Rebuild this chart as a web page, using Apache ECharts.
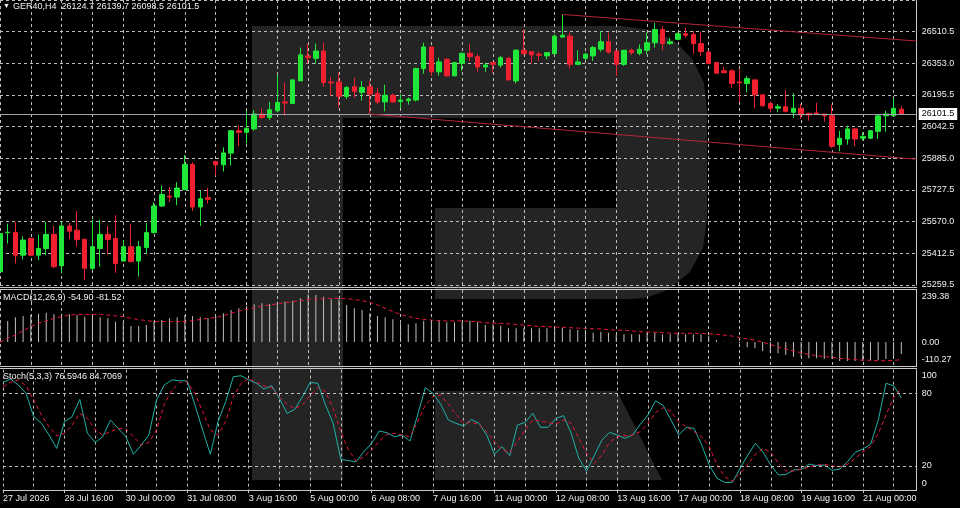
<!DOCTYPE html>
<html><head><meta charset="utf-8">
<script src="https://cdn.jsdelivr.net/npm/echarts@6/dist/echarts.min.js"></script>
<style>html,body{margin:0;padding:0;background:#000;}#c{width:960px;height:508px;}</style>
</head><body><div id="c"></div><script>
const tickLabels = ["27 Jul 2026","28 Jul 16:00","30 Jul 00:00","31 Jul 08:00","3 Aug 16:00","5 Aug 00:00","6 Aug 08:00","7 Aug 16:00","11 Aug 00:00","12 Aug 08:00","13 Aug 16:00","17 Aug 00:00","18 Aug 08:00","19 Aug 16:00","21 Aug 00:00"];
const priceTicks = ["25259.5","25412.5","25570.0","25727.5","25885.0","26042.5","26195.5","26353.0","26510.5"];
const macdTicks = [-110.27, 0, 239.38];
const stochTicks = [0, 20, 80, 100];
const stochLevels = [20, 80];

const opens = [25319,25512,25513,25401,25484,25401,25434,25504,25349,25546,25525,25480,25336,25434,25504,25484,25372,25443,25372,25439,25513,25645,25694,25689,25727,25851,25640,25686,25865,25849,25907,26018,26010,26027,26101,26084,26117,26161,26153,26265,26389,26377,26413,26260,26260,26188,26236,26208,26236,26203,26161,26194,26163,26167,26170,26326,26433,26310,26372,26290,26352,26402,26385,26334,26356,26343,26377,26265,26417,26410,26397,26389,26400,26482,26487,26347,26377,26389,26422,26459,26413,26347,26417,26402,26417,26454,26520,26450,26471,26499,26496,26450,26408,26356,26315,26315,26260,26252,26270,26196,26153,26130,26137,26109,26129,26104,26106,26101,26092,25949,25977,26027,25981,25981,26015,26092,26092,26124.7];
const closes = [25508,25515,25401,25476,25401,25434,25504,25344,25546,25520,25479,25336,25443,25504,25479,25360,25443,25369,25443,25513,25645,25702,25689,25734,25851,25640,25681,25678,25849,25908,26018,26010,26030,26101,26084,26122,26158,26155,26270,26394,26380,26413,26257,26255,26188,26232,26213,26232,26199,26161,26194,26161,26170,26175,26326,26433,26310,26359,26290,26356,26402,26385,26334,26344,26347,26380,26270,26417,26400,26394,26392,26405,26487,26491,26347,26359,26397,26430,26459,26408,26347,26417,26405,26422,26454,26520,26450,26459,26499,26491,26450,26410,26351,26303,26306,26252,26255,26277,26196,26142,26129,26137,26114,26129,26096,26096,26101,26092,25941,25981,26027,25977,25990,26018,26092,26101,26129,26101.5];
const lows = [25311,25459,25360,25380,25396,25377,25401,25336,25311,25480,25443,25278,25327,25344,25405,25314,25369,25369,25295,25410,25508,25640,25665,25648,25722,25620,25546,25657,25796,25816,25846,25941,25956,26018,26076,26071,26109,26092,26150,26265,26351,26351,26236,26191,26134,26175,26183,26167,26101,26150,26114,26158,26130,26147,26163,26301,26290,26290,26285,26287,26315,26364,26311,26310,26306,26331,26265,26252,26394,26352,26364,26372,26397,26482,26326,26344,26367,26364,26410,26400,26290,26339,26394,26392,26397,26430,26417,26443,26466,26479,26400,26389,26347,26301,26301,26232,26161,26208,26130,26137,26109,26109,26109,26081,26076,26068,26096,26064,25931,25916,25949,25941,25969,25976,25977,26013,26091,26098.5];
const highs = [25525,25558,25566,25495,25489,25504,25566,25546,25566,25561,25620,25480,25577,25577,25546,25599,25476,25554,25472,25561,25665,25747,25739,25763,25898,25862,25719,25735,25870,25936,26022,26046,26117,26120,26129,26161,26295,26257,26272,26430,26446,26450,26454,26285,26306,26241,26282,26265,26265,26232,26246,26203,26199,26183,26331,26454,26433,26380,26377,26359,26405,26450,26397,26356,26359,26389,26384,26422,26520,26410,26410,26405,26496,26594,26504,26417,26405,26438,26512,26504,26413,26417,26425,26446,26504,26553,26537,26479,26504,26528,26512,26509,26413,26359,26334,26323,26323,26290,26274,26199,26161,26150,26219,26203,26150,26107,26157,26101,26147,26018,26043,26032,26010,26022,26097,26117,26180,26139.7];

const macdHist = [86.0,96.8,113.7,119.8,124.4,130.5,135.1,127.5,130.5,127.5,124.4,116.7,116.7,113.7,109.0,93.7,90.6,73.8,73.8,78.4,96.8,101.4,109.0,113.7,124.4,119.8,113.7,109.0,119.8,132.1,147.4,155.1,165.8,173.5,178.1,175.0,185.7,185.7,190.3,201.1,219.5,216.4,208.7,196.5,196.5,170.4,155.1,147.4,132.1,119.8,113.7,104.4,86.0,81.3,86.0,98.3,101.4,101.4,90.6,90.6,90.6,98.3,93.7,78.4,81.4,75.3,63.0,63.0,63.0,63.0,63.0,63.0,66.1,66.1,58.4,55.4,55.4,43.1,47.7,43.1,35.4,35.4,35.4,35.4,43.1,43.1,35.4,35.4,35.4,35.4,35.4,35.4,29.3,9.4,1.7,-1.4,-6.0,-24.4,-29.0,-41.3,-52.0,-52.0,-59.7,-67.3,-70.4,-75.0,-75.0,-78.1,-78.1,-87.3,-87.3,-87.3,-87.3,-82.7,-82.7,-78.1,-70.4,-54.90];
const macdSignal = [-1,17,32,52,71,86,97,109,117,124,127,127,127,127,124,121,117,109,104,98,94,94,94,94,94,98,104,109,113,121,132,143,150,158,166,170,176,181,186,190,195,198,199,201,201,199,196,190,183,170,155,140,127,117,109,104,101,98,97,97,97,95,94,89,87,86,84,81,78,75,72,71,69,68,66,64,63,61,60,57,55,54,51,48,46,45,43,41,40,40,40,40,38,35,32,28,20,14,9,-1,-11,-23,-32,-41,-49,-57,-63,-67,-70,-75,-78,-81,-83,-84,-86,-86,-84,-81.52];

const stochK = [89.4,92.2,87.2,80.3,60.9,55.4,45.7,34.6,56.8,60.9,75.3,47.1,39.6,44.3,58.2,51.2,44.3,29.7,37.4,45.7,74.8,87.2,91.4,90.8,90.5,70.6,49.9,29.7,56.8,73.4,94.1,94.9,91.4,88.6,83.9,86.6,76.1,63.7,67.0,77.5,89.4,88.6,70.6,55.4,25.5,24.4,23.6,31.9,38.8,49.0,47.6,44.3,45.7,40.7,62.3,85.0,80.3,71.2,58.2,55.4,53.2,58.6,55.4,45.7,29.7,36.0,28.6,54.0,56.2,63.7,52.1,52.1,59.5,61.8,47.1,26.3,15.8,28.6,41.6,47.9,45.7,42.9,45.7,54.6,62.3,74.2,70.1,58.2,45.7,52.1,51.2,37.4,20.5,9.7,6.4,6.4,18.0,29.1,38.8,31.3,20.8,12.5,13.1,16.7,17.2,21.6,20.3,20.8,16.4,17.5,23.6,31.3,34.1,38.0,58.2,88.6,86.6,76.5946];
const stochD = [85.8,89.4,91.4,86.6,74.8,62.3,52.6,44.9,47.1,54.0,63.7,59.5,49.9,45.7,48.5,51.2,50.7,44.3,37.4,39.6,49.9,71.2,83.1,89.4,90.0,80.3,65.1,49.9,45.7,56.8,77.5,88.6,92.7,89.4,86.6,85.0,77.5,71.2,67.8,70.6,78.4,85.0,81.7,67.8,48.5,33.3,24.1,27.7,33.3,40.7,46.3,47.1,45.7,44.3,56.8,70.6,77.5,78.9,71.2,62.9,55.4,56.2,54.6,48.5,40.2,33.3,31.3,40.2,49.9,58.2,57.3,56.2,54.6,58.2,55.4,43.0,30.5,22.2,29.1,39.6,44.3,45.2,45.7,48.5,55.4,64.5,68.4,65.1,56.8,52.6,48.5,44.3,36.0,20.8,11.1,7.5,13.9,21.4,29.7,34.6,31.3,22.2,15.8,15.8,17.5,19.2,20.8,21.4,20.0,19.4,21.4,26.3,31.9,36.0,47.1,62.3,76.7,84.7069];

const upperTrend = [[73, 26594.4], [119, 26462.6]];
const lowerTrend = [[48, 26100.8], [119, 25876.7]];
const symbolName = "GER40,H4";
const slotCount = 120;

const lastIdx = closes.length - 1;
const lastPrice = closes[lastIdx];
const FONT = '"Liberation Sans", Arial, sans-serif';
const GREEN = '#1fe83a', RED = '#f02030', DRED = '#e8163a', TEAL = '#20b2aa', GRIDC = '#bdbdbd', AXC = '#c8c8c8', TXT = '#f0f0f0';
const cats = Array.from({length: slotCount}, (_, i) => String(i));
const candleData = opens.map((o, i) => [o, closes[i], lows[i], highs[i]]);
const vGrid = i => i % 4 === 0;
const dashed = {color: GRIDC, width: 1, type: [3, 3]};

function xAx(gi, showLabels) {
  return {
    type: 'category', gridIndex: gi, data: cats, boundaryGap: false,
    axisLine: {show: showLabels, lineStyle: {color: AXC}},
    axisTick: {show: showLabels, interval: (i) => i % 8 === 0 && i <= 112, length: 3, lineStyle: {color: AXC}},
    axisLabel: {show: showLabels, interval: (i) => i % 8 === 0 && i <= 112, formatter: (v) => tickLabels[Number(v) / 8] || '', align: 'left', margin: 4, color: TXT, fontSize: 9, fontFamily: FONT},
    splitLine: {show: true, interval: vGrid, lineStyle: dashed}
  };
}

const wmBowl = [[252,26],[622,26],[650,30],[675,41],[693,60],[704,83],[707,110],[707,220],[703,248],[690,272],[668,290],[645,298],[630,299],[435,299],[435,208],[616,208],[616,118],[343,118],[343,480],[252,480]];
const wmLeg = [[435,391],[617,391],[662,480],[435,480]];

const chart = echarts.init(document.getElementById('c'), null, {renderer: 'canvas'});
chart.setOption({
  animation: false,
  backgroundColor: '#000',
  grid: [
    {left: 0, right: 43.3, top: -1.2, height: 286.2},
    {left: 0, right: 43.3, top: 290, height: 76},
    {left: 0, right: 43.3, top: 369.6, height: 120.5}
  ],
  xAxis: [xAx(0, false), xAx(1, false), xAx(2, true)],
  yAxis: [
    {type: 'value', gridIndex: 0, min: 25253.3, max: 26666.0, show: false, splitLine: {show: false}},
    {type: 'value', gridIndex: 0, position: 'right', min: 0, max: 9, interval: 1,
      axisLine: {show: true, lineStyle: {color: AXC}}, axisTick: {show: false},
      axisLabel: {formatter: v => priceTicks[v] || '', color: TXT, fontSize: 9, fontFamily: FONT, margin: 5, align: 'left'},
      splitLine: {show: true, lineStyle: dashed}},
    {type: 'value', gridIndex: 1, position: 'right', min: macdTicks[0], max: macdTicks[2],
      axisLine: {show: true, lineStyle: {color: AXC}}, axisTick: {show: false}, splitLine: {show: false},
      axisLabel: {customValues: macdTicks, color: TXT, fontSize: 9, fontFamily: FONT, margin: 5, align: 'left',
        formatter: v => v === macdTicks[2] ? '{t|' + v.toFixed(2) + '}' : (v === macdTicks[0] ? '{b|' + v.toFixed(2) + '}' : '{m|' + v.toFixed(2) + '}'),
        rich: {t: {padding: [14, 0, 0, 0], color: TXT, fontSize: 9, fontFamily: FONT}, b: {padding: [0, 0, 12, 0], color: TXT, fontSize: 9, fontFamily: FONT}, m: {color: TXT, fontSize: 9, fontFamily: FONT}}}},
    {type: 'value', gridIndex: 2, position: 'right', min: 0, max: 100,
      axisLine: {show: true, lineStyle: {color: AXC}}, axisTick: {show: false}, splitLine: {show: false},
      axisLabel: {customValues: stochTicks, color: TXT, fontSize: 9, fontFamily: FONT, margin: 5, align: 'left',
        formatter: v => v === 100 ? '{t|100}' : (v === 0 ? '{b|0}' : '{m|' + v + '}'),
        rich: {t: {padding: [12, 0, 0, 0], color: TXT, fontSize: 9, fontFamily: FONT}, b: {padding: [0, 0, 13, 0], color: TXT, fontSize: 9, fontFamily: FONT}, m: {color: TXT, fontSize: 9, fontFamily: FONT}}}}
  ],
  series: [
    {type: 'candlestick', xAxisIndex: 0, yAxisIndex: 0, data: candleData, barWidth: 5,
      itemStyle: {color: GREEN, color0: RED, borderColor: GREEN, borderColor0: RED, borderWidth: 1},
      markLine: {silent: true, symbol: ['none', 'none'], animation: false,
        lineStyle: {color: '#b3243a', width: 1, type: 'solid'}, label: {show: false},
        data: [
          {yAxis: lastPrice, lineStyle: {color: '#9aa4ae', width: 1, type: 'solid'},
            label: {show: true, position: 'end', distance: 2, formatter: lastPrice.toFixed(1), backgroundColor: '#ffffff', color: '#000', padding: [2, 3, 1, 3], fontSize: 9, fontFamily: FONT}},
          [{coord: upperTrend[0]}, {coord: upperTrend[1]}],
          [{coord: lowerTrend[0]}, {coord: lowerTrend[1]}]
        ]}},
    {type: 'bar', xAxisIndex: 1, yAxisIndex: 2, data: macdHist, barWidth: 1, itemStyle: {color: '#c0c0c0'}},
    {type: 'line', xAxisIndex: 1, yAxisIndex: 2, data: macdSignal, showSymbol: false, lineStyle: {color: DRED, width: 1, type: [4, 3]}},
    {type: 'line', xAxisIndex: 2, yAxisIndex: 3, data: stochK, showSymbol: false, lineStyle: {color: TEAL, width: 1},
      markLine: {silent: true, symbol: ['none', 'none'], label: {show: false}, lineStyle: dashed, data: stochLevels.map(v => ({yAxis: v}))}},
    {type: 'line', xAxisIndex: 2, yAxisIndex: 3, data: stochD, showSymbol: false, lineStyle: {color: DRED, width: 1, type: [4, 3]}}
  ],
  graphic: [
    {type: 'polygon', z: -10, silent: true, shape: {points: wmBowl}, style: {fill: '#242424'}},
    {type: 'polygon', z: -10, silent: true, shape: {points: wmLeg}, style: {fill: '#242424'}},
    {type: 'line', z: 50, silent: true, shape: {x1: 0, y1: 287.5, x2: 917, y2: 287.5}, style: {stroke: AXC, lineWidth: 1}},
    {type: 'line', z: 50, silent: true, shape: {x1: 0, y1: 289.5, x2: 917, y2: 289.5}, style: {stroke: AXC, lineWidth: 1}},
    {type: 'line', z: 50, silent: true, shape: {x1: 0, y1: 366.5, x2: 917, y2: 366.5}, style: {stroke: AXC, lineWidth: 1}},
    {type: 'line', z: 50, silent: true, shape: {x1: 0, y1: 368.5, x2: 917, y2: 368.5}, style: {stroke: AXC, lineWidth: 1}},
    {type: 'text', z: 60, silent: true, left: 3, top: 3, style: {text: '▼', fill: TXT, fontSize: 7, fontFamily: FONT}},
    {type: 'text', z: 60, silent: true, left: 13, top: 2, style: {text: symbolName + '  ' + [opens[lastIdx], highs[lastIdx], lows[lastIdx], closes[lastIdx]].map(v => v.toFixed(1)).join(' '), fill: TXT, fontSize: 9, fontFamily: FONT}},
    {type: 'text', z: 60, silent: true, left: 3, top: 293, style: {text: 'MACD(12,26,9) ' + macdHist[lastIdx].toFixed(2) + ' ' + macdSignal[lastIdx].toFixed(2), fill: TXT, fontSize: 9, fontFamily: FONT}},
    {type: 'text', z: 60, silent: true, left: 3, top: 372, style: {text: 'Stoch(5,3,3) ' + stochK[lastIdx].toFixed(4) + ' ' + stochD[lastIdx].toFixed(4), fill: TXT, fontSize: 9, fontFamily: FONT}}
  ]
});
</script></body></html>
